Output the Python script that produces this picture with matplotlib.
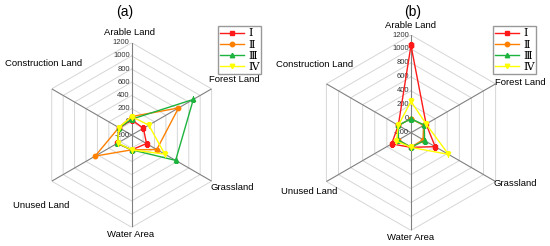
import numpy as np
import matplotlib.pyplot as plt

plt.rcParams['font.family'] = ['Liberation Sans', 'DejaVu Sans']

categories = ['Arable Land', 'Forest Land', 'Grassland', 'Water Area', 'Unused Land', 'Construction Land']
ticks = [-200, 0, 200, 400, 600, 800, 1000, 1200]
names = ['Ⅰ', 'Ⅱ', 'Ⅲ', 'Ⅳ']

# panel (a)
a_I = [30, 5, 60, 25, 55, 15]
a_II = [80, 620, 240, 25, 440, 25]
a_III = [40, 880, 570, 25, 50, 20]
a_IV = [80, 100, 380, 25, 45, 25]

# panel (b)
b_I = [1050, 50, 200, 10, 120, 10]
b_II = [0, 10, 0, 10, 10, 10]
b_III = [0, 20, 25, 10, 10, 10]
b_IV = [250, 50, 420, 10, 40, 10]

colors = ['#ff1a1a', '#ff8000', '#1db33f', '#ffff00']
markers = ['s', 'o', '^', 'v']

angles = np.arange(6) * 2 * np.pi / 6
closed = np.append(angles, angles[0])


def radar(ax, data, label_pos):
	ax.set_theta_offset(np.pi / 2)
	ax.set_theta_direction(-1)
	ax.set_ylim(-200, 1200)
	ax.grid(False)
	ax.spines['polar'].set_visible(False)
	ax.set_xticks([])
	ax.set_yticks([])
	ax.patch.set_alpha(0)

	for t in ticks[1:]:
		ax.plot(closed, [t] * 7, color='#d6d6d6', lw=0.7, zorder=1)
	for a in angles:
		ax.plot([a, a], [-200, 1200], color='#808080', lw=0.8, zorder=2)

	for t in ticks:
		ax.annotate(str(t), xy=(0, t), xytext=(-2, 0), textcoords='offset pixels',
					ha='right', va='center', fontsize=5.5, color='#333333',
					annotation_clip=False, zorder=3)

	for (name, ha, va, dx, dy), a in zip(label_pos, angles):
		ax.annotate(name, xy=(a, 1200), xytext=(dx, dy), textcoords='offset pixels',
					ha=ha, va=va, fontsize=6.8, annotation_clip=False)

	lines = []
	for vals, c, m in zip(data, colors, markers):
		ln, = ax.plot(closed, vals + vals[:1], color=c, lw=1, marker=m,
					  markersize=3.2, zorder=4)
		lines.append(ln)
	return lines


fig = plt.figure(figsize=(5.5, 2.46), dpi=100)

ax1 = fig.add_axes([0.0716, 0.076, 0.3356, 0.7504], projection='polar')
pos_a = [
	(categories[0], 'center', 'center', -2, 10),
	(categories[1], 'left', 'center', -3, 9),
	(categories[2], 'left', 'center', -1, -6),
	(categories[3], 'center', 'center', -1, -7),
	(categories[4], 'center', 'center', -11, -24),
	(categories[5], 'center', 'center', -8, 25),
]
lines = radar(ax1, [a_I, a_II, a_III, a_IV], pos_a)

ax2 = fig.add_axes([0.5696, 0.0634, 0.3553, 0.7943], projection='polar')
pos_b = [
	(categories[0], 'center', 'center', 0, 10),
	(categories[1], 'left', 'center', -1, 1),
	(categories[2], 'left', 'center', -2, -2),
	(categories[3], 'center', 'center', 0, -7),
	(categories[4], 'center', 'center', -17, -10),
	(categories[5], 'center', 'center', -12, 19),
]
radar(ax2, [b_I, b_II, b_III, b_IV], pos_b)

fig.text(0.226, 0.95, '(a)', ha='center', va='center', fontsize=10)
fig.text(0.751, 0.95, '(b)', ha='center', va='center', fontsize=10)

for x0 in [0.396, 0.896]:
	fig.legend(lines, names, loc='upper left', bbox_to_anchor=(x0, 0.893),
			   fancybox=False, edgecolor='#999999', framealpha=1,
			   prop={'family': 'DejaVu Serif', 'size': 7.8},
			   handlelength=2.2, handletextpad=0.4, labelspacing=0.1,
			   borderpad=0.2, borderaxespad=0)

fig.savefig('out.png', dpi=100)
